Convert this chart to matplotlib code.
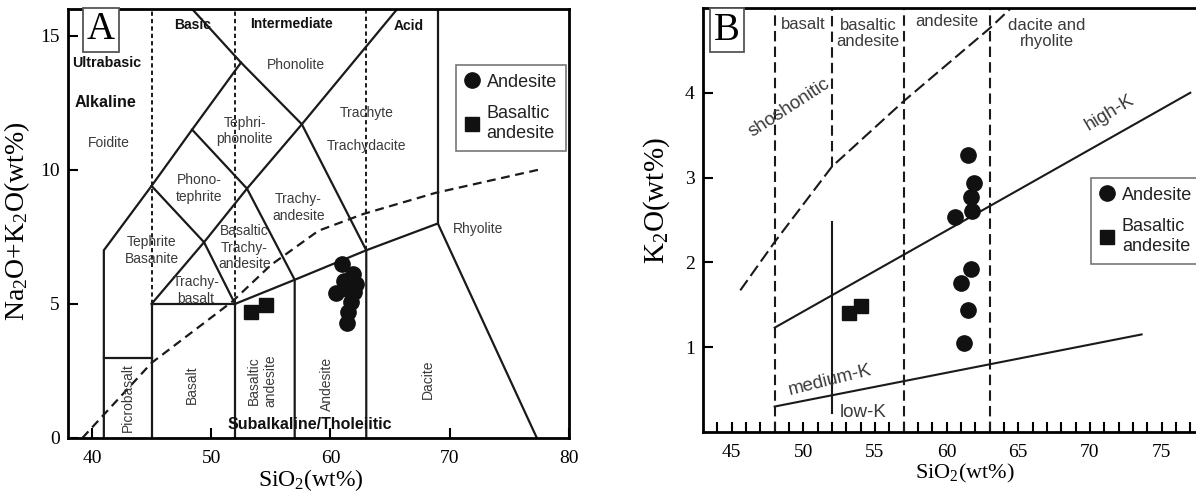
import matplotlib
matplotlib.use("Agg")
import matplotlib.pyplot as plt
from matplotlib.lines import Line2D

plt.rcParams["font.family"] = ["Liberation Sans", "DejaVu Sans"]
plt.rcParams["mathtext.fontset"] = "custom"
plt.rcParams["mathtext.rm"] = "Liberation Serif"
plt.rcParams["mathtext.it"] = "Liberation Serif:italic"
SERIF = "Liberation Serif"

# ---- sample data ----
# panel A: TAS
tas_and_sio2 = [61.0, 61.9, 61.1, 62.1, 60.5, 62.0, 61.4, 61.7, 61.5, 61.4]
tas_and_alk = [6.5, 6.1, 5.87, 5.75, 5.4, 5.43, 5.57, 5.06, 4.7, 4.3]
tas_ba_sio2 = [53.3, 54.6]
tas_ba_alk = [4.7, 4.95]

# panel B: K2O vs SiO2
k_and_sio2 = [61.5, 61.9, 61.7, 61.8, 60.6, 61.7, 61.0, 61.5, 61.2]
k_and_k2o = [3.27, 2.94, 2.77, 2.61, 2.53, 1.92, 1.76, 1.44, 1.05]
k_ba_sio2 = [53.2, 54.0]
k_ba_k2o = [1.40, 1.48]

# ---- diagram boundaries ----
tas_solid = [
    [(41, 0), (41, 7), (45, 9.4), (48.4, 11.5), (52.5, 14), (48.4, 16)],
    [(41, 3), (45, 3)],
    [(45, 0), (45, 5), (52, 5), (52, 0)],
    [(45, 5), (49.4, 7.3), (52, 5)],
    [(52, 5), (57, 5.9), (63, 7), (69, 8), (77.3, 0)],
    [(57, 0), (57, 5.9), (53, 9.3), (49.4, 7.3), (45, 9.4)],
    [(63, 0), (63, 7), (57.6, 11.7), (52.5, 14)],
    [(48.4, 11.5), (53, 9.3), (57.6, 11.7), (65.6, 16)],
    [(69, 8), (69, 16)],
]
tas_vdash = [(45, 5, 16), (52, 5, 16), (63, 7, 16)]
ib_x = [39.2, 45, 51.8, 55, 59, 62.8, 68.8, 77.4]
ib_y = [0, 2.8, 5.1, 6.45, 7.73, 8.36, 9.14, 10.0]

k_vdash = [(48, 0, 5), (52, 3.13, 5), (57, 0, 5), (63, 0, 5)]
shosh_x = [45.6, 48, 52, 57, 63, 64.5]
shosh_y = [1.67, 2.24, 3.13, 3.9, 4.76, 5.0]
highk_x = [48, 77]
highk_y = [1.23, 4.0]
lowk_x = [48, 73.6]
lowk_y = [0.3, 1.15]

# x, y, text, bold, rotation, size
tas_labels = [
    (48.4, 15.4, "Basic", True, 0, 10),
    (56.7, 15.45, "Intermediate", True, 0, 10),
    (66.6, 15.35, "Acid", True, 0, 10),
    (41.2, 14.0, "Ultrabasic", True, 0, 10.3),
    (41.1, 12.5, "Alkaline", True, 0, 11.5),
    (41.4, 11.0, "Foidite", False, 0, 10),
    (57.1, 13.9, "Phonolite", False, 0, 10),
    (52.8, 11.45, "Tephri-\nphonolite", False, 0, 10),
    (49.0, 9.3, "Phono-\ntephrite", False, 0, 10),
    (63.0, 11.5, "Trachyte\n\nTrachydacite", False, 0, 10),
    (57.3, 8.6, "Trachy-\nandesite", False, 0, 10),
    (52.8, 7.1, "Basaltic\nTrachy-\nandesite", False, 0, 10),
    (45.0, 7.0, "Tephrite\nBasanite", False, 0, 10),
    (48.7, 5.5, "Trachy-\nbasalt", False, 0, 10),
    (43.0, 1.5, "Picrobasalt", False, 90, 10),
    (48.4, 2.0, "Basalt", False, 90, 10),
    (54.3, 2.15, "Basaltic\nandesite", False, 90, 10),
    (59.7, 2.0, "Andesite", False, 90, 10),
    (68.2, 2.2, "Dacite", False, 90, 10),
    (72.4, 7.8, "Rhyolite", False, 0, 10),
    (58.3, 0.5, "Subalkaline/Tholeiitic", True, 0, 11.5),
]

# x, y, text, rotation, size
k_labels = [
    (50.0, 4.8, "basalt", 0, 12),
    (54.5, 4.7, "basaltic\nandesite", 0, 12),
    (60.0, 4.84, "andesite", 0, 12),
    (67.0, 4.7, "dacite and\nrhyolite", 0, 12),
    (49.0, 3.82, "shoshonitic", 33, 13.5),
    (71.4, 3.76, "high-K", 31, 13.5),
    (51.9, 0.61, "medium-K", 14, 13.5),
    (54.2, 0.23, "low-K", 0, 13.5),
]

LC = "#1a1a1a"
TC = "#3a3a3a"

fig = plt.figure(figsize=(11.96, 4.92), dpi=100)

# ================= panel A =================
axA = fig.add_axes([0.0569, 0.1098, 0.4189, 0.872])
for seg in tas_solid:
    xs, ys = zip(*seg)
    axA.plot(xs, ys, color=LC, lw=1.6, solid_joinstyle="miter")
for x, y0, y1 in tas_vdash:
    axA.plot([x, x], [y0, y1], color=LC, lw=1.4, dashes=(2.2, 1.6))
axA.plot(ib_x, ib_y, color=LC, lw=1.6, dashes=(4, 2.5))

axA.plot(tas_and_sio2, tas_and_alk, "o", color="#111111", ms=11, zorder=5)
axA.plot(tas_ba_sio2, tas_ba_alk, "s", color="#111111", ms=10, zorder=5)

for x, y, t, bold, rot, fs in tas_labels:
    axA.text(x, y, t, ha="center", va="center", rotation=rot,
             fontsize=fs, fontweight="bold" if bold else "normal",
             color="#111111" if bold else TC, linespacing=1.25)

axA.set_xlim(38, 80)
axA.set_ylim(0, 16)
axA.set_xticks([40, 50, 60, 70, 80])
axA.set_yticks([0, 5, 10, 15])
axA.tick_params(direction="in", length=7, width=1.5, labelsize=14, pad=6)
for lab in axA.get_xticklabels() + axA.get_yticklabels():
    lab.set_fontfamily(SERIF)
axA.tick_params(axis="x", pad=9)
for s in axA.spines.values():
    s.set_linewidth(2)
axA.set_xlabel("SiO$_2$(wt%)", fontsize=17, fontfamily=SERIF)
axA.set_ylabel("Na$_2$O+K$_2$O(wt%)", fontsize=20, fontfamily=SERIF)
axA.xaxis.set_label_coords(0.485, -0.068)
axA.yaxis.set_label_coords(-0.072, 0.506)
axA.text(0.066, 0.951, "A", transform=axA.transAxes, ha="center", va="center",
         fontsize=28, fontfamily=SERIF,
         bbox=dict(boxstyle="square,pad=0.1", fc="white", ec="#555555", lw=1.3))

hA = [Line2D([], [], marker="o", ls="", color="#111111", ms=11),
      Line2D([], [], marker="s", ls="", color="#111111", ms=10)]
legA = axA.legend(hA, ["Andesite", "Basaltic\nandesite"], loc="upper left",
                  bbox_to_anchor=(0.774, 0.87), fontsize=13, frameon=True,
                  fancybox=False, edgecolor="#555555", handlelength=0.8,
                  handletextpad=0.4, borderpad=0.5, labelspacing=0.8,
                  borderaxespad=0)
legA.get_frame().set_linewidth(1.2)
for t in legA.get_texts():
    t.set_color("#222222")

# ================= panel B =================
axB = fig.add_axes([0.5878, 0.1220, 0.4194, 0.8618])
for x, y0, y1 in k_vdash:
    axB.plot([x, x], [y0, y1], color=LC, lw=1.5, dashes=(5, 2.5))
axB.plot(shosh_x, shosh_y, color=LC, lw=1.5, dashes=(6, 2.5))
axB.plot(highk_x, highk_y, color=LC, lw=1.5)
axB.plot(lowk_x, lowk_y, color=LC, lw=1.5)
axB.plot([52, 52], [0.22, 2.48], color=LC, lw=1.5)

axB.plot(k_and_sio2, k_and_k2o, "o", color="#111111", ms=11, zorder=5)
axB.plot(k_ba_sio2, k_ba_k2o, "s", color="#111111", ms=10, zorder=5)

for x, y, t, rot, fs in k_labels:
    axB.text(x, y, t, ha="center", va="center", rotation=rot, fontsize=fs,
             color=TC, linespacing=1.05, rotation_mode="anchor")

axB.set_xlim(43, 78)
axB.set_ylim(0, 5)
axB.set_xticks([45, 50, 55, 60, 65, 70, 75])
axB.set_xticks(range(44, 78), minor=True)
axB.set_yticks([1, 2, 3, 4])
axB.tick_params(which="both", direction="in", length=7, width=1.5,
                labelsize=14)
axB.tick_params(axis="x", pad=9)
axB.tick_params(axis="y", pad=6)
for lab in axB.get_xticklabels() + axB.get_yticklabels():
    lab.set_fontfamily(SERIF)
for s in axB.spines.values():
    s.set_linewidth(2)
axB.set_xlabel("SiO$_2$(wt%)", fontsize=16, fontfamily=SERIF)
axB.set_ylabel("K$_2$O(wt%)", fontsize=21, fontfamily=SERIF)
axB.xaxis.set_label_coords(0.522, -0.07)
axB.yaxis.set_label_coords(-0.062, 0.545)
axB.text(0.048, 0.948, "B", transform=axB.transAxes, ha="center", va="center",
         fontsize=28, fontfamily=SERIF,
         bbox=dict(boxstyle="square,pad=0.1", fc="white", ec="#555555", lw=1.3))

legB = axB.legend(hA, ["Andesite", "Basaltic\nandesite"], loc="upper left",
                  bbox_to_anchor=(0.774, 0.60), fontsize=13, frameon=True,
                  fancybox=False, edgecolor="#555555", handlelength=0.8,
                  handletextpad=0.4, borderpad=0.5, labelspacing=0.8,
                  borderaxespad=0)
legB.get_frame().set_linewidth(1.2)
for t in legB.get_texts():
    t.set_color("#222222")

fig.savefig("out.png", dpi=100)
